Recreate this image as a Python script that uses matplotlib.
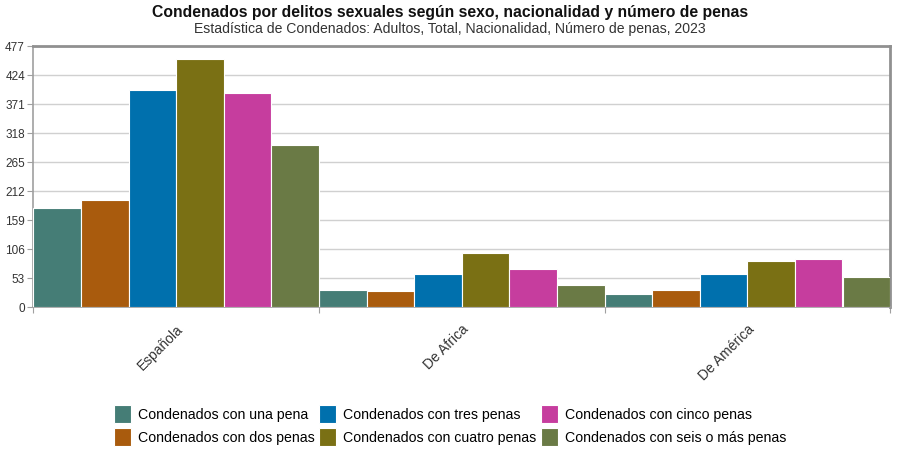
import matplotlib
matplotlib.use("Agg")
import matplotlib.pyplot as plt
import numpy as np

plt.rcParams["font.family"] = ["Liberation Sans", "DejaVu Sans"]

# ── Datos ────────────────────────────────────────────────────────────────
categorias = ["Española", "De Africa", "De América"]
series = [
    "Condenados con una pena",
    "Condenados con dos penas",
    "Condenados con tres penas",
    "Condenados con cuatro penas",
    "Condenados con cinco penas",
    "Condenados con seis o más penas",
]
una = [181, 32, 23]
dos = [195, 30, 31]
tres = [396, 60, 60]
cuatro = [453, 98, 85]
cinco = [391, 70, 87]
seis = [296, 40, 54]
valores = [una, dos, tres, cuatro, cinco, seis]
colores = ["#457D76", "#A95B0D", "#0070AD", "#7A7014", "#C63D9E", "#6A7A45"]
yticks = [0, 53, 106, 159, 212, 265, 318, 371, 424, 477]

fig = plt.figure(figsize=(9, 4.61), dpi=100)
ax = fig.add_axes([0.037, 0.334, 0.952, 0.566])

n = len(series)
w = 1.0 / n
x = np.arange(len(categorias))
for i, (vals, c, lab) in enumerate(zip(valores, colores, series)):
    ax.bar(x - 0.5 + w * (i + 0.5), vals, width=w, color=c,
           edgecolor="white", linewidth=0.8, label=lab, zorder=3)

ax.set_xlim(-0.5, len(categorias) - 0.5)
ax.set_ylim(0, 477)
ax.set_yticks(yticks)
ax.set_yticklabels([str(t) for t in yticks], fontsize=8.5, color="#333333")
ax.yaxis.grid(True, color="#D0D0D0", lw=1.0, zorder=0)

# ticks at group edges, labels at group centres
ax.set_xticks(np.arange(len(categorias) + 1) - 0.5)
ax.set_xticklabels([])
ax.set_xticks(x, minor=True)
ax.set_xticklabels(categorias, minor=True, rotation=45, ha="right",
                   rotation_mode="anchor", fontsize=10, color="#333333")
ax.tick_params(axis="x", which="minor", length=0, pad=11)
ax.tick_params(axis="x", which="major", length=4, color="#A0A0A0")
ax.tick_params(axis="y", length=4, color="#A0A0A0", pad=2)

for s in ["top", "right"]:
    ax.spines[s].set_color("#909090")
    ax.spines[s].set_linewidth(2.0)
for s in ["left", "bottom"]:
    ax.spines[s].set_color("#A0A0A0")
    ax.spines[s].set_linewidth(1.2)

fig.text(0.5, 0.972, "Condenados por delitos sexuales según sexo, nacionalidad y número de penas",
         ha="center", va="center", fontsize=11.3, fontweight="bold", color="#111111")
fig.text(0.5, 0.938, "Estadística de Condenados: Adultos, Total, Nacionalidad, Número de penas, 2023",
         ha="center", va="center", fontsize=10.1, color="#333333")

fig.legend(loc="center", bbox_to_anchor=(0.5, 0.077), ncol=3, frameon=False,
           fontsize=10.2, handlelength=1.2, handleheight=1.5, handletextpad=0.5,
           columnspacing=0.3, labelspacing=0.4)

fig.savefig("out.png", dpi=100, facecolor="white")
